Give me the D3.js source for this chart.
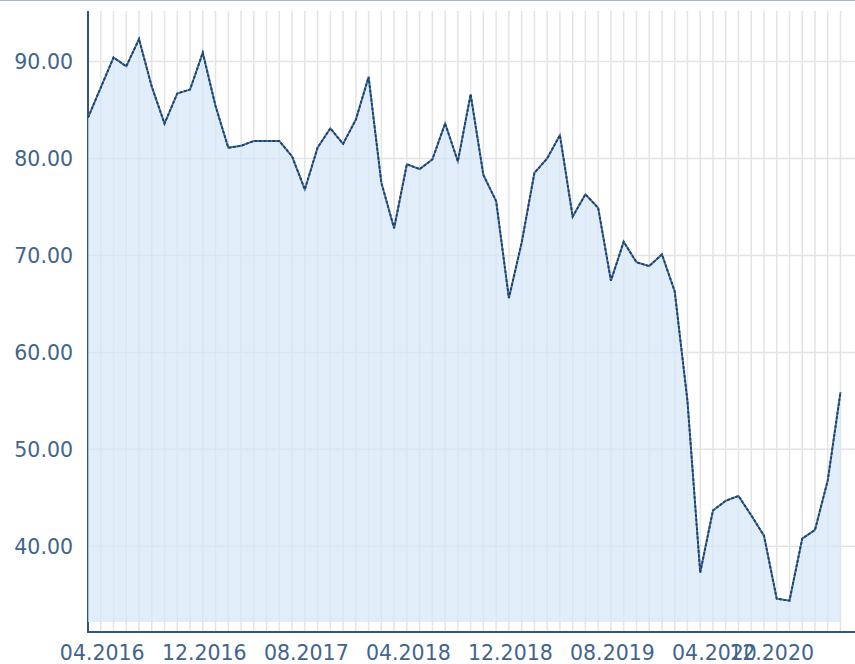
<!DOCTYPE html>
<html>
<head>
<meta charset="utf-8">
<script src="https://cdn.jsdelivr.net/npm/d3@7"></script>
<style>
    body { margin: 0; background: #fff; }
    #chart-area { width: 855px; height: 664px; }
    .tick-label { font-family: "DejaVu Sans", Verdana, sans-serif; font-size: 20.5px; fill: #41648c; }
</style>
</head>
<body>
<div id="chart-area"></div>
<script>
// monthly values, 03.2016 - 02.2021
const months = [
    "03.2016","04.2016","05.2016","06.2016","07.2016","08.2016","09.2016","10.2016","11.2016","12.2016",
    "01.2017","02.2017","03.2017","04.2017","05.2017","06.2017","07.2017","08.2017","09.2017","10.2017","11.2017","12.2017",
    "01.2018","02.2018","03.2018","04.2018","05.2018","06.2018","07.2018","08.2018","09.2018","10.2018","11.2018","12.2018",
    "01.2019","02.2019","03.2019","04.2019","05.2019","06.2019","07.2019","08.2019","09.2019","10.2019","11.2019","12.2019",
    "01.2020","02.2020","03.2020","04.2020","05.2020","06.2020","07.2020","08.2020","09.2020","10.2020","11.2020","12.2020",
    "01.2021","02.2021"
];
const values = [
    84.2, 87.3, 90.4, 89.5, 92.3, 87.4, 83.6, 86.7, 87.1, 90.9,
    85.4, 81.1, 81.3, 81.8, 81.8, 81.8, 80.2, 76.8, 81.1, 83.1, 81.5, 84.0,
    88.4, 77.5, 72.8, 79.4, 78.9, 79.9, 83.6, 79.7, 86.6, 78.3, 75.6, 65.6,
    71.3, 78.5, 80.0, 82.4, 74.0, 76.3, 74.9, 67.4, 71.4, 69.3, 68.9, 70.1,
    66.3, 55.0, 37.3, 43.7, 44.7, 45.2, 43.2, 41.1, 34.6, 34.4, 40.8, 41.7,
    46.8, 55.9
];
const xTickLabels = ["04.2016", "12.2016", "08.2017", "04.2018", "12.2018", "08.2019", "04.2020", "12.2020"];
const yTickValues = [40, 50, 60, 70, 80, 90];

class AreaChart {
    constructor(parentElement) {
        this.parentElement = parentElement;
        this.initVis();
    }

    initVis() {
        let vis = this;

        vis.width = 855;
        vis.height = 664;
        vis.left = 88;
        vis.top = 11;
        vis.plotBottom = 622;
        vis.axisY = 632;

        vis.svg = d3.select("#" + vis.parentElement).append("svg")
            .attr("width", vis.width)
            .attr("height", vis.height);

        vis.xScale = d3.scalePoint()
            .domain(months)
            .range([vis.left, 840.5]);

        vis.yScale = d3.scaleLinear()
            .domain([32.2, 95.2])
            .range([vis.plotBottom, vis.top]);

        vis.drawVis();
    }

    drawVis() {
        let vis = this;

        // top border
        vis.svg.append("line")
            .attr("x1", 0).attr("x2", vis.width)
            .attr("y1", 0.5).attr("y2", 0.5)
            .attr("stroke", "#a3b8cf");

        // horizontal grid
        vis.svg.append("g").selectAll("line")
            .data(yTickValues)
            .enter().append("line")
            .attr("x1", vis.left).attr("x2", vis.width)
            .attr("y1", d => vis.yScale(d)).attr("y2", d => vis.yScale(d))
            .attr("stroke", "#e4e4e4")
            .attr("stroke-width", 1.5);

        // vertical grid, one per month
        vis.svg.append("g").selectAll("line")
            .data(months)
            .enter().append("line")
            .attr("x1", d => vis.xScale(d)).attr("x2", d => vis.xScale(d))
            .attr("y1", vis.top).attr("y2", vis.axisY)
            .attr("stroke", "#e4e4e4")
            .attr("stroke-width", 1.5);

        // axes lines
        vis.svg.append("line")
            .attr("x1", vis.left).attr("x2", vis.left)
            .attr("y1", vis.top).attr("y2", vis.axisY + 1)
            .attr("stroke", "#2f5583")
            .attr("stroke-width", 2);

        vis.svg.append("line")
            .attr("x1", vis.left - 1).attr("x2", vis.width)
            .attr("y1", vis.axisY).attr("y2", vis.axisY)
            .attr("stroke", "#2f5583")
            .attr("stroke-width", 2);

        let series = months.map((m, i) => ({month: m, value: values[i]}));

        vis.area = d3.area()
            .x(d => vis.xScale(d.month))
            .y0(vis.plotBottom)
            .y1(d => vis.yScale(d.value));

        vis.line = d3.line()
            .x(d => vis.xScale(d.month))
            .y(d => vis.yScale(d.value));

        vis.svg.append("path")
            .datum(series)
            .attr("d", vis.area)
            .attr("fill", "#d6e8f7")
            .attr("fill-opacity", 0.72);

        vis.svg.append("path")
            .datum(series)
            .attr("d", vis.line)
            .attr("fill", "none")
            .attr("stroke", "#4d77a3")
            .attr("stroke-width", 1.9);

        vis.svg.append("path")
            .datum(series)
            .attr("d", vis.line)
            .attr("fill", "none")
            .attr("stroke", "#1d426e")
            .attr("stroke-width", 1.9)
            .attr("stroke-dasharray", "3,1.5");

        // y labels
        vis.svg.append("g").selectAll("text")
            .data(yTickValues)
            .enter().append("text")
            .attr("class", "tick-label")
            .attr("x", 73)
            .attr("y", d => vis.yScale(d))
            .attr("dy", "0.36em")
            .attr("text-anchor", "end")
            .text(d => d3.format(".2f")(d));

        // x labels (last one is right-aligned to its tick, overlapping like the original)
        vis.svg.append("g").selectAll("text")
            .data(xTickLabels)
            .enter().append("text")
            .attr("class", "tick-label")
            .attr("x", (d, i) => i === xTickLabels.length - 1 ? vis.xScale(d) - 1 : vis.xScale(d) + 1.5)
            .attr("y", 660)
            .attr("text-anchor", (d, i) => i === xTickLabels.length - 1 ? "end" : "middle")
            .text(d => d);
    }
}

new AreaChart("chart-area");
</script>
</body>
</html>
